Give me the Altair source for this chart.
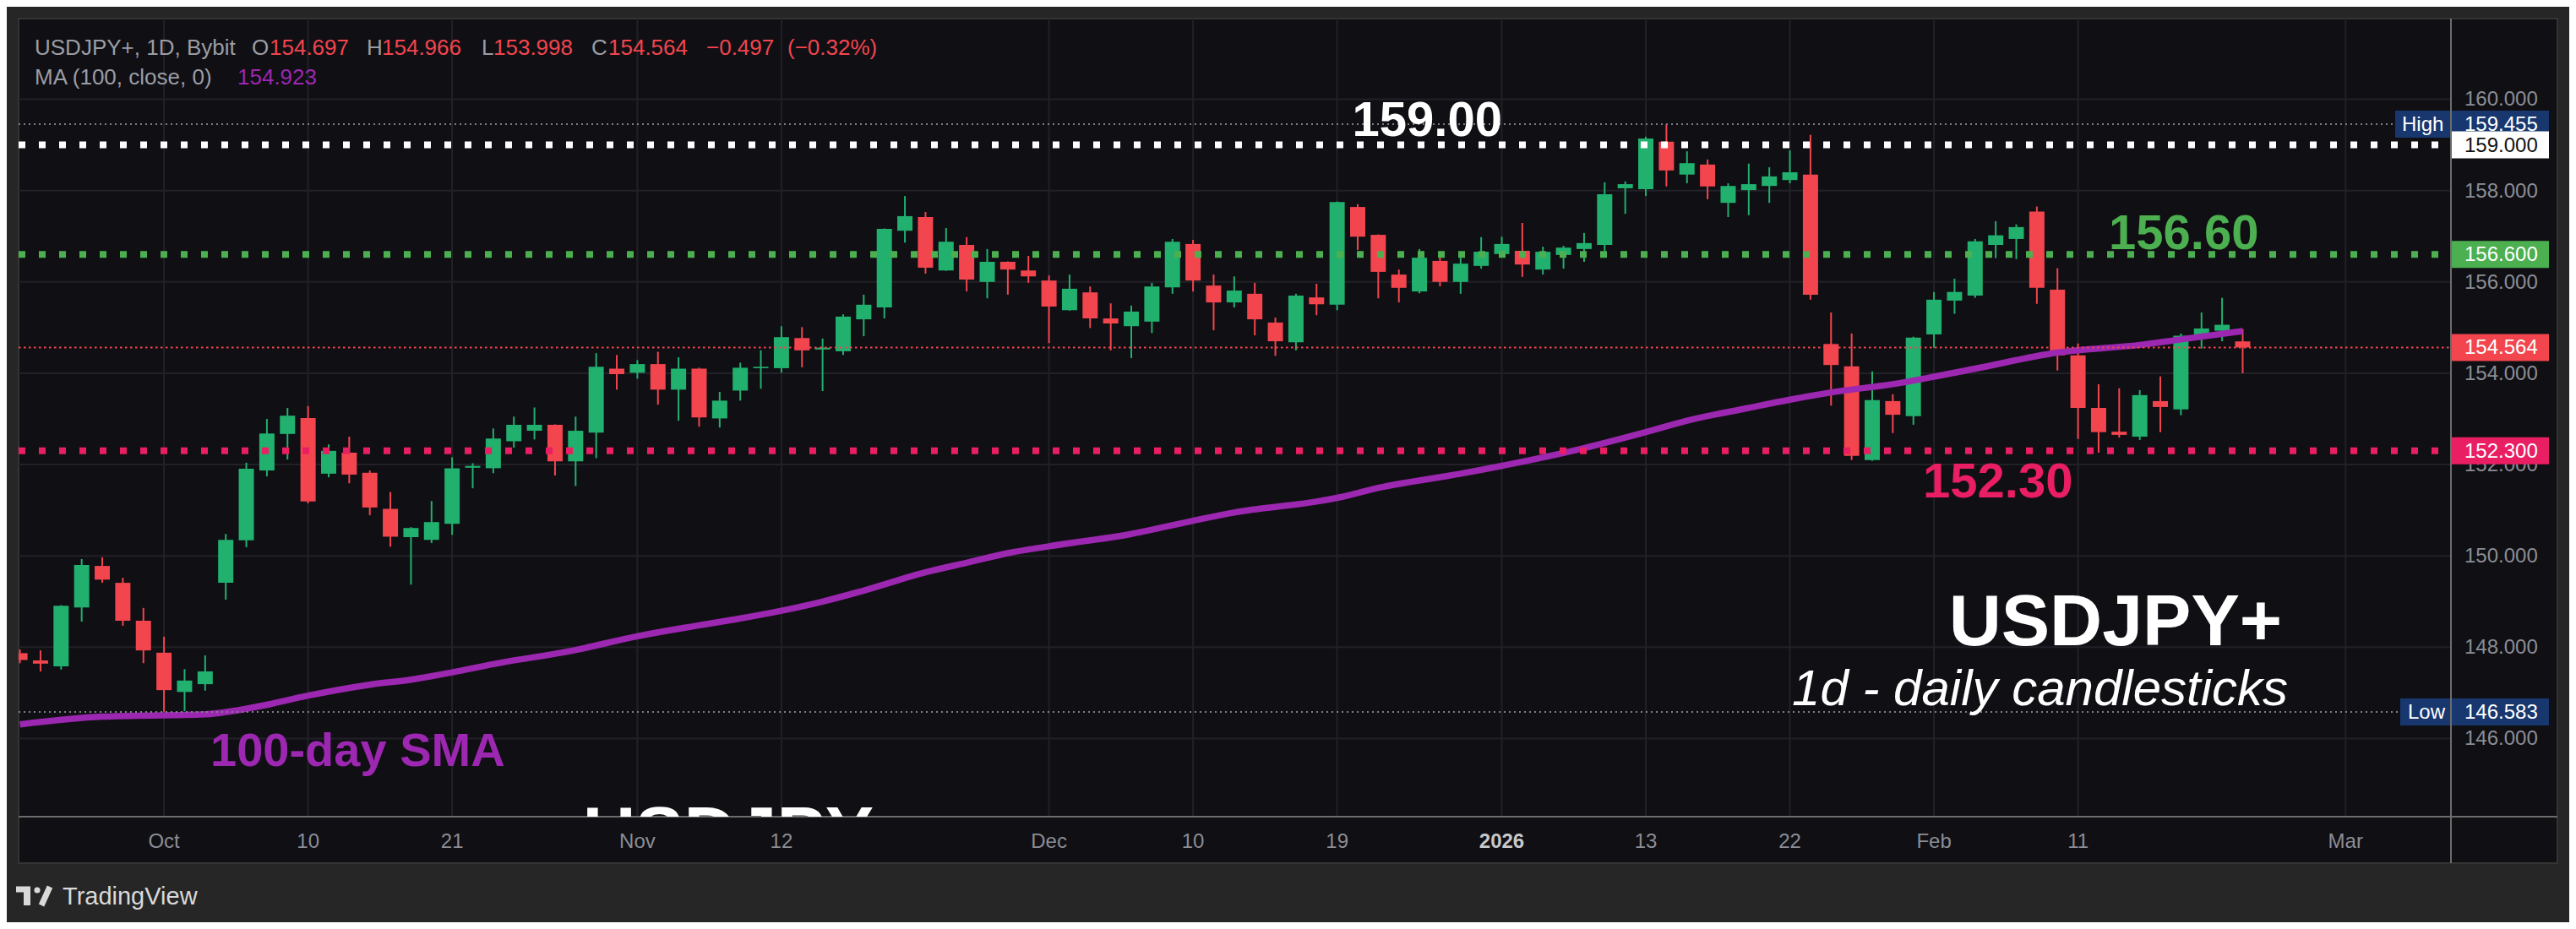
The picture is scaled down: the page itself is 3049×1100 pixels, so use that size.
import altair as alt
import pandas as pd

# ---------------- data ----------------
opens = [147.87,147.71,147.58,148.87,149.78,149.41,148.58,147.88,147.02,147.19,
         149.41,150.34,151.87,152.67,153.02,151.80,152.26,151.82,151.03,150.41,
         150.35,150.70,151.93,151.92,152.51,152.74,152.87,152.07,152.70,154.10,
         154.01,154.20,153.64,154.10,153.01,153.62,154.11,154.11,154.77,154.52,
         154.48,155.18,155.44,157.12,157.42,156.25,156.81,156.00,156.44,156.25,
         156.03,155.38,155.77,155.20,155.03,155.13,155.88,156.83,155.92,155.55,
         155.74,155.11,154.68,155.66,155.50,157.64,157.03,156.16,155.79,156.46,
         156.00,156.35,156.61,156.68,156.27,156.59,156.72,156.81,158.05,158.03,
         159.07,158.35,158.57,157.73,158.01,158.10,158.23,158.35,154.64,154.15,
         152.10,153.39,153.06,154.85,155.59,155.70,156.81,156.94,157.54,155.83,
         154.39,153.24,152.72,152.61,153.39,153.21,154.76,154.93,154.697]
highs = [147.95,147.93,148.92,149.93,149.97,149.52,148.86,148.23,147.52,147.82,
         150.48,152.04,153.00,153.24,153.28,152.44,152.61,151.87,151.40,150.63,
         151.20,152.16,152.03,152.79,153.05,153.25,152.88,153.05,154.44,154.40,
         154.29,154.47,154.35,154.12,153.59,154.23,154.50,155.03,155.01,154.76,
         155.29,155.72,157.17,157.88,157.53,157.18,156.98,156.72,156.45,156.57,
         156.14,156.16,155.90,155.53,155.48,155.98,156.94,156.92,156.16,156.12,
         155.98,155.22,155.74,155.96,157.76,157.70,157.04,156.27,156.72,156.53,
         156.53,156.98,156.99,157.29,156.77,156.79,157.07,158.18,158.20,159.18,
         159.455,158.86,158.68,158.16,158.59,158.51,158.88,159.22,155.33,154.87,
         154.04,153.54,154.80,155.78,156.07,156.94,157.33,157.26,157.65,156.30,
         154.65,153.76,153.67,153.63,153.93,154.87,155.33,155.65,154.966]
lows = [147.65,147.47,147.51,148.56,149.41,148.47,147.65,146.583,146.60,147.05,
        149.04,150.19,151.74,152.11,151.15,151.72,151.59,150.89,150.20,149.37,
        150.28,150.46,151.48,151.81,152.37,152.55,151.76,151.53,152.14,153.64,
        153.88,153.31,152.96,152.83,152.81,153.40,153.66,154.01,154.13,153.61,
        154.40,154.81,155.20,156.86,156.18,156.24,155.79,155.64,155.72,155.98,
        154.66,155.37,154.99,154.50,154.33,154.88,155.74,155.79,154.94,155.44,
        154.83,154.38,154.50,155.27,155.38,156.70,155.64,155.55,155.75,155.90,
        155.74,156.29,156.58,156.11,156.16,156.29,156.44,156.68,157.49,157.88,
        158.09,158.16,157.81,157.42,157.46,157.73,158.16,155.61,153.29,152.10,
        152.08,152.69,152.87,154.56,155.30,155.65,156.52,156.50,155.52,154.06,
        152.56,152.26,152.59,152.54,152.71,153.08,154.54,154.70,153.998]
closes = [147.72,147.64,148.91,149.80,149.48,148.58,147.93,147.06,147.27,147.47,
          150.35,151.91,152.68,153.07,151.19,152.30,151.78,151.06,150.42,150.61,
          150.74,151.92,151.97,152.57,152.87,152.87,152.07,152.74,154.14,153.98,
          154.20,153.64,154.10,153.03,153.40,154.12,154.14,154.79,154.50,154.56,
          155.24,155.50,157.16,157.44,156.31,156.88,156.05,156.44,156.27,156.12,
          155.46,155.85,155.20,155.09,155.35,155.90,156.88,156.03,155.55,155.81,
          155.18,154.70,155.70,155.51,157.75,156.99,156.22,155.87,156.53,156.00,
          156.40,156.66,156.83,156.38,156.66,156.75,156.85,157.92,158.14,159.14,
          158.44,158.60,158.09,158.10,158.14,158.31,158.40,155.72,154.18,152.19,
          153.41,153.09,154.78,155.61,155.78,156.89,157.02,157.20,155.87,154.39,
          153.24,152.71,152.65,153.52,153.26,154.82,154.98,155.061,154.564]

# 100-day SMA (bar index, value)
ma_idx = [0, 4, 9, 10, 12, 14, 17, 19, 21, 23, 27, 30, 33, 35, 37, 39, 41, 44, 46, 48,
          50, 54, 57, 59, 63, 64, 66, 70, 76, 79, 81, 84, 86, 88, 91, 95, 99, 103, 105, 108]
ma_val = [146.31, 146.48, 146.53, 146.58, 146.74, 146.94, 147.18, 147.29, 147.45, 147.63,
          147.94, 148.24, 148.48, 148.63, 148.80, 149.00, 149.24, 149.64, 149.85, 150.06,
          150.21, 150.48, 150.77, 150.95, 151.19, 151.27, 151.49, 151.80, 152.36, 152.71,
          152.96, 153.24, 153.42, 153.58, 153.76, 154.10, 154.45, 154.62, 154.74, 154.923]
ma_last = 154.923

tick_idx = [7, 14, 21, 30, 37, 50, 57, 64, 72, 79, 86, 93, 100, 113]
tick_lab = ["Oct", "10", "21", "Nov", "12", "Dec", "10", "19", "2026", "13", "22", "Feb", "11", "Mar"]
price_ticks = [146, 148, 150, 152, 154, 156, 158, 160]

level_white = 159.00
level_green = 156.60
level_pink = 152.30
period_high = 159.455
period_low = 146.583

# ---------------- styling ----------------
FONT = "Liberation Sans"
OUTER = "#262626"
BG = "#100f14"
GRID = "#212127"
UP = "#21b06e"
DOWN = "#f2454e"
PURPLE = "#9c27b0"
GREENL = "#4caf50"
PINK = "#e91e63"
NAVY = "#18376e"
AX = "#8b8d94"
HDR = "#9a9da5"

W, H = 2879, 945
xs = alt.Scale(domain=[0.14, 117.915], nice=False, zero=False)
ys = alt.Scale(domain=[144.289, 161.766], nice=False, zero=False)

n = len(opens)
candles = pd.DataFrame({"i": list(range(n)), "open": opens, "high": highs,
                        "low": lows, "close": closes})
candles["dir"] = ["up" if c >= o else "down" for o, c in zip(opens, closes)]
ma_df = pd.DataFrame({"i": ma_idx, "v": ma_val})
ticks_df = pd.DataFrame({"i": tick_idx, "lab": tick_lab})
pt_df = pd.DataFrame({"p": price_ticks})
one = pd.DataFrame({"a": [0]})

X = lambda f: alt.X(f, scale=xs, axis=None)
Y = lambda f: alt.Y(f, scale=ys, axis=None)


def txt(t, x, y, size, color, weight="normal", style="normal", align="left",
        baseline="alphabetic", clip=False):
    return alt.Chart(one).mark_text(
        text=t, align=align, baseline=baseline, fontSize=size, fontWeight=weight,
        fontStyle=style, color=color, font=FONT, clip=clip
    ).encode(x=alt.value(x), y=alt.value(y))


def prule(x1, x2, y1, y2, color, width, **kw):
    return alt.Chart(one).mark_rule(color=color, strokeWidth=width, **kw).encode(
        x=alt.value(x1), x2=alt.value(x2), y=alt.value(y1), y2=alt.value(y2))


def hline(price, color, width, dash):
    return alt.Chart(pd.DataFrame({"p": [price]})).mark_rule(
        color=color, strokeWidth=width, strokeDash=dash, strokeCap="butt"
    ).encode(y=Y("p:Q"), x=alt.value(0), x2=alt.value(W))


def pbox(price, color, text_color, x1=2880, label=None, label_x=None):
    d = pd.DataFrame({"p": [price]})
    layers = [alt.Chart(d).mark_rule(color=color, strokeWidth=32, strokeCap="butt").encode(
        y=Y("p:Q"), x=alt.value(x1), x2=alt.value(2995))]
    layers.append(alt.Chart(d).transform_calculate(t="format(datum.p, '.3f')").mark_text(
        align="left", baseline="middle", fontSize=24, color=text_color, font=FONT, dy=1
    ).encode(y=Y("p:Q"), x=alt.value(2895), text="t:N"))
    if label:
        layers.append(alt.Chart(d).mark_text(
            text=label, align="left", baseline="middle", fontSize=24, color="white",
            font=FONT, dy=1).encode(y=Y("p:Q"), x=alt.value(label_x)))
    return layers


frame = alt.Chart(one).mark_rect(fill=BG, stroke="#343434", strokeWidth=2).encode(
    x=alt.value(0), x2=alt.value(3005), y=alt.value(0), y2=alt.value(1000))

hgrid = alt.Chart(pt_df).mark_rule(color=GRID, strokeWidth=2).encode(
    y=Y("p:Q"), x=alt.value(0), x2=alt.value(W))
vgrid = alt.Chart(ticks_df).mark_rule(color=GRID, strokeWidth=2).encode(
    x=X("i:Q"), y=alt.value(0), y2=alt.value(H))

col = alt.Color("dir:N", scale=alt.Scale(domain=["up", "down"], range=[UP, DOWN]), legend=None)
wicks = alt.Chart(candles).mark_rule(strokeWidth=2, clip=True).encode(
    x=X("i:Q"), y=Y("low:Q"), y2="high:Q", color=col)
bodies = alt.Chart(candles).mark_bar(size=18, clip=True).encode(
    x=X("i:Q"), y=Y("open:Q"), y2="close:Q", color=col)

ma_line = alt.Chart(ma_df).mark_line(color=PURPLE, strokeWidth=7.5,
                                     interpolate="monotone", clip=True).encode(
    x=X("i:Q"), y=Y("v:Q"))

hl_lines = alt.Chart(pd.DataFrame({"p": [period_high, period_low]})).mark_rule(
    color="#7d7f86", strokeWidth=2, strokeDash=[2, 4]).encode(
    y=Y("p:Q"), x=alt.value(0), x2=alt.value(W))
last_line = hline(closes[-1], DOWN, 2, [2.5, 3.5])
lv_white = hline(level_white, "#ffffff", 8, [8, 16])
lv_green = hline(level_green, GREENL, 8, [8, 16])
lv_pink = hline(level_pink, PINK, 8, [8, 16])

# price axis labels
ylabels = alt.Chart(pt_df).transform_calculate(t="format(datum.p, '.3f')").mark_text(
    align="left", baseline="middle", fontSize=24, color=AX, font=FONT, dy=1).encode(
    y=Y("p:Q"), x=alt.value(2895), text="t:N")

# time axis labels
xlab_norm = alt.Chart(ticks_df).transform_filter("datum.lab != '2026'").mark_text(
    align="center", baseline="middle", fontSize=24, color=AX, font=FONT).encode(
    x=X("i:Q"), y=alt.value(975), text="lab:N")
xlab_bold = alt.Chart(ticks_df).transform_filter("datum.lab == '2026'").mark_text(
    align="center", baseline="middle", fontSize=24, color="#c8c8c8", font=FONT,
    fontWeight="bold").encode(x=X("i:Q"), y=alt.value(975), text="lab:N")

boxes = []
boxes += pbox(period_high, NAVY, "white", x1=2813, label="High", label_x=2821)
boxes += pbox(level_white, "#ffffff", "#131313")
boxes += pbox(level_green, GREENL, "white")
boxes += pbox(closes[-1], DOWN, "white")
boxes += pbox(level_pink, PINK, "white")
boxes += pbox(period_low, NAVY, "white", x1=2819, label="Low", label_x=2828)

sep_v = prule(2879, 2879, 0, 1000, "#6c6c6c", 2)
sep_h = prule(0, 3005, 945, 945, "#6c6c6c", 2)

# header legend
chg = closes[-1] - closes[-2]
pct = chg / closes[-2] * 100
fmt_sign = lambda v, d: ("\u2212" if v < 0 else "+") + f"{abs(v):.{d}f}"
header = [
    txt("USDJPY+, 1D, Bybit", 19, 43, 26, HDR),
    txt("O", 276, 43, 26, HDR), txt(f"{opens[-1]:.3f}", 297, 43, 26, DOWN),
    txt("H", 412, 43, 26, HDR), txt(f"{highs[-1]:.3f}", 430, 43, 26, DOWN),
    txt("L", 548, 43, 26, HDR), txt(f"{lows[-1]:.3f}", 562, 43, 26, DOWN),
    txt("C", 678, 43, 26, HDR), txt(f"{closes[-1]:.3f}", 698, 43, 26, DOWN),
    txt(fmt_sign(chg, 3), 814, 43, 26, DOWN),
    txt("(" + fmt_sign(pct, 2) + "%)", 910, 43, 26, DOWN),
    txt("MA (100, close, 0)", 19, 78, 26, HDR),
    txt(f"{ma_last:.3f}", 259, 78, 26, PURPLE),
]

notes = [
    txt("159.00", 1756, 139, 58, "#ffffff", weight="bold", align="right"),
    txt("156.60", 2474, 273, 58, GREENL, weight="bold"),
    txt("152.30", 2254, 567, 58, PINK, weight="bold"),
    txt("USDJPY+", 2679, 742, 86, "#ffffff", weight="bold", align="right"),
    txt("1d - daily candlesticks", 2686, 813, 60, "#ffffff", style="italic", align="right"),
    txt("100-day SMA", 227, 885, 56, PURPLE, weight="bold"),
    txt("USDJPY", 668, 993, 86, "#ffffff", weight="bold", clip=True),
]

# TradingView footer mark
logo = [
    prule(-3, 14, 1031, 1031, "#d9d9d9", 7),
    prule(10, 10, 1028, 1050, "#d9d9d9", 8),
    alt.Chart(one).mark_circle(color="#d9d9d9", opacity=1, size=50).encode(
        x=alt.value(22), y=alt.value(1032)),
    prule(27, 37, 1050, 1028, "#d9d9d9", 7),
    txt("TradingView", 52, 1049, 29, "#d9d9d9"),
]

chart = alt.layer(
    frame, hgrid, vgrid, wicks, bodies, ma_line, hl_lines, last_line,
    lv_white, lv_green, lv_pink, ylabels, xlab_norm, xlab_bold,
    *boxes, sep_v, sep_h, *header, *notes, *logo
).properties(
    width=W, height=H, background=OUTER,
    padding={"left": 14, "top": 14, "right": 140, "bottom": 125},
    autosize=alt.AutoSizeParams(type="none"),
).configure_view(stroke=None)

chart.save("out.html", embed_options={"renderer": "svg", "actions": False})
